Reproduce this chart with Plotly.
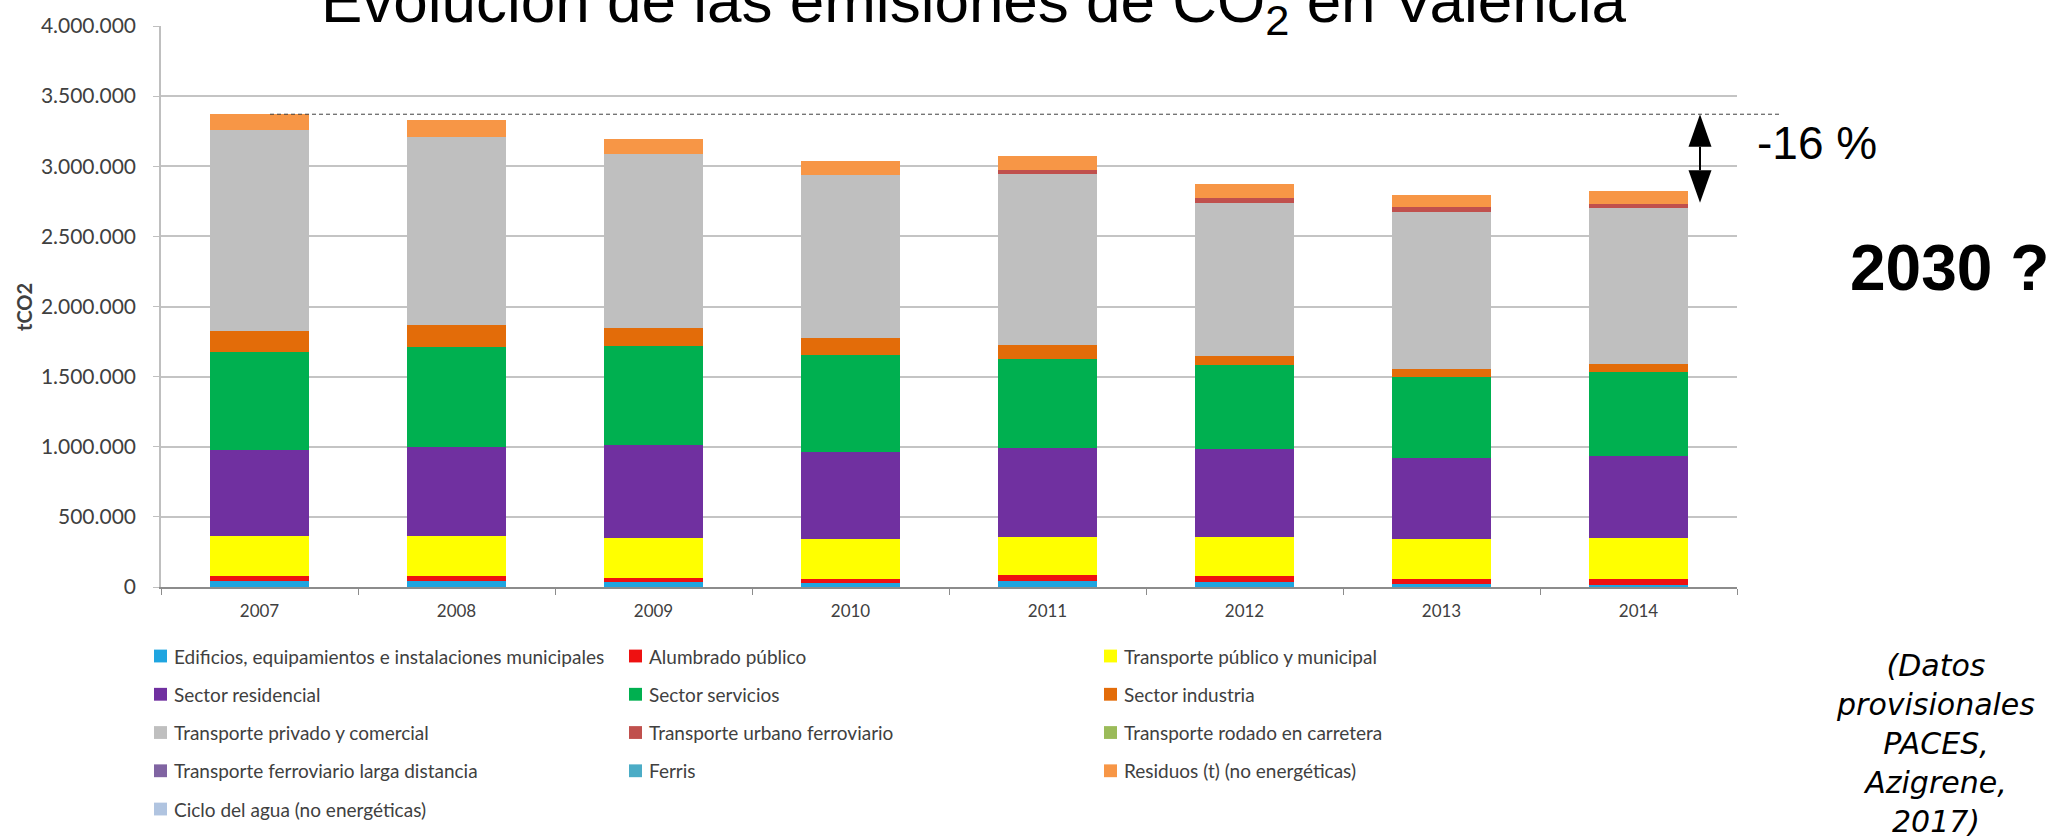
import plotly.graph_objects as go

# ---- data (tCO2) ----
years = ["2007", "2008", "2009", "2010", "2011", "2012", "2013", "2014"]

series_names = [
    "Edificios, equipamientos e instalaciones municipales",
    "Alumbrado público",
    "Transporte público y municipal",
    "Sector residencial",
    "Sector servicios",
    "Sector industria",
    "Transporte privado y comercial",
    "Transporte urbano ferroviario",
    "Transporte rodado en carretera",
    "Transporte ferroviario larga distancia",
    "Ferris",
    "Residuos (t) (no energéticas)",
    "Ciclo del agua (no energéticas)",
]

series_colors = [
    "#1FA5E0", "#EE1111", "#FFFF00", "#7030A0", "#00B050", "#E36C09",
    "#BFBFBF", "#C0504D", "#9BBB59", "#8064A2", "#4BACC6", "#F79646",
    "#B0C4E0",
]

edificios = [41000, 46000, 33000, 26000, 44000, 37000, 21000, 16000]
alumbrado = [35000, 30000, 30000, 28000, 40000, 40000, 35000, 40000]
transporte_publico = [290000, 290000, 287000, 288000, 274000, 276000, 286000, 291000]
residencial = [614000, 629000, 662000, 623000, 635000, 630000, 580000, 590000]
servicios = [693000, 715000, 707000, 687000, 634000, 598000, 578000, 593000]
industria = [154000, 159000, 127000, 120000, 101000, 64000, 54000, 58000]
transporte_privado = [1431000, 1340000, 1239000, 1168000, 1218000, 1096000, 1119000, 1113000]
urbano_ferroviario = [0, 0, 0, 0, 29000, 31000, 33000, 28000]
rodado_carretera = [0, 0, 0, 0, 0, 0, 0, 0]
ferroviario_larga = [0, 0, 0, 0, 0, 0, 0, 0]
ferris = [0, 0, 0, 0, 0, 0, 0, 0]
residuos = [113000, 119000, 110000, 101000, 99000, 98000, 89000, 96000]
ciclo_agua = [0, 0, 0, 0, 0, 0, 0, 0]

y_ticks = [0, 500000, 1000000, 1500000, 2000000, 2500000, 3000000, 3500000, 4000000]

series_values = [
    edificios, alumbrado, transporte_publico, residencial, servicios,
    industria, transporte_privado, urbano_ferroviario, rodado_carretera,
    ferroviario_larga, ferris, residuos, ciclo_agua,
]

totals = [sum(v[i] for v in series_values) for i in range(len(years))]
change_pct = round((totals[-1] - totals[0]) / totals[0] * 100)

# ---- page geometry (pixels) ----
W, H = 2050, 837
L, R, T, B = 161, 313, 18, 250
PW, PH = W - L - R, H - T - B


def px_x(px):
    return (px - L) / PW


def px_y(py):
    return (H - B - py) / PH


fig = go.Figure()
for name, color, vals in zip(series_names, series_colors, series_values):
    fig.add_trace(go.Bar(
        x=years, y=vals, name=name,
        marker=dict(color=color, line=dict(width=0)),
        showlegend=False,
    ))

ui_family = "Lato, Carlito, sans-serif"
x_font = dict(family=ui_family, size=17, color="#404040")
y_font = dict(family=ui_family, size=21, color="#404040")

fig.update_layout(
    width=W, height=H,
    margin=dict(l=L, r=R, t=T, b=B, pad=0),
    barmode="stack", bargap=0.5,
    plot_bgcolor="white", paper_bgcolor="white",
    separators=",.",
    font=x_font,
    showlegend=False,
)

fig.update_xaxes(
    type="category", showgrid=False,
    showline=True, linecolor="#8C8C8C", linewidth=1.5,
    ticks="outside", tickson="boundaries", ticklen=6, tickcolor="#8C8C8C",
    ticklabelstandoff=8, tickfont=x_font,
)
fig.update_yaxes(
    range=[0, 4000000], tickvals=y_ticks, tickformat=",.0f",
    showgrid=True, gridcolor="#C4C4C4", gridwidth=1.5, zeroline=False,
    showline=True, linecolor="#BFBFBF", linewidth=1.5,
    ticks="outside", ticklen=6, tickcolor="#BFBFBF",
    ticklabelstandoff=13, tickfont=y_font,
)

shapes = []
annotations = []

# hide the top gridline behind the title band
shapes.append(dict(type="rect", xref="paper", yref="paper",
                   x0=px_x(196), x1=1.02, y0=0.993, y1=1.03,
                   fillcolor="white", line=dict(width=0), layer="above"))

# reference level of the first year
shapes.append(dict(type="line", xref="paper", yref="y",
                   x0=px_x(270), x1=px_x(1782), y0=totals[0], y1=totals[0],
                   line=dict(color="#404040", width=1, dash="4px,3px")))

# double-headed arrow showing the reduction
ax = px_x(1700)
hw = 11.5 / PW
head = 33 / PH * 4000000
arrow_top = totals[0]
arrow_bottom = 2740000
shapes.append(dict(type="line", xref="paper", yref="y",
                   x0=ax, x1=ax, y0=arrow_top - head, y1=arrow_bottom + head,
                   line=dict(color="black", width=2)))
shapes.append(dict(type="path", xref="paper", yref="y",
                   path=f"M {ax},{arrow_top} L {ax - hw},{arrow_top - head} "
                        f"L {ax + hw},{arrow_top - head} Z",
                   fillcolor="black", line=dict(width=0)))
shapes.append(dict(type="path", xref="paper", yref="y",
                   path=f"M {ax},{arrow_bottom} L {ax - hw},{arrow_bottom + head} "
                        f"L {ax + hw},{arrow_bottom + head} Z",
                   fillcolor="black", line=dict(width=0)))

# legend: three columns of swatches and labels
col_swatch = [154, 629, 1104]
col_text = [172, 647, 1122]
row_y0, row_step = 657, 38.8
sw = 13
for i, (name, color) in enumerate(zip(series_names, series_colors)):
    row, col = divmod(i, 3)
    cy = row_y0 + row * row_step
    shapes.append(dict(type="rect", xref="paper", yref="paper",
                       x0=px_x(col_swatch[col]), x1=px_x(col_swatch[col] + sw),
                       y0=px_y(cy + sw / 2), y1=px_y(cy - sw / 2),
                       fillcolor=color, line=dict(width=0)))
    annotations.append(dict(xref="paper", yref="paper",
                            x=px_x(col_text[col]), y=px_y(cy),
                            xanchor="left", yanchor="middle", showarrow=False,
                            text=name,
                            font=dict(family=ui_family, size=19, color="#404040")))

# title
annotations.append(dict(xref="paper", yref="paper", x=px_x(974), y=px_y(-45),
                        xanchor="center", yanchor="top", showarrow=False,
                        text="Evolución de las emisiones de CO<sub>2</sub> en Valencia",
                        font=dict(family="Liberation Sans, Arial, sans-serif",
                                  size=62, color="black")))

# axis title
annotations.append(dict(xref="paper", yref="paper", x=px_x(24), y=px_y(303),
                        xanchor="center", yanchor="middle", showarrow=False,
                        textangle=-90, text="<b>tCO2</b>",
                        font=dict(family=ui_family, size=20, color="#404040")))

# reduction label
annotations.append(dict(xref="paper", yref="paper", x=px_x(1755), y=px_y(137),
                        xanchor="left", yanchor="middle", showarrow=False,
                        text=f"{change_pct} %",
                        font=dict(family="Liberation Sans, Arial, sans-serif",
                                  size=46, color="black")))

annotations.append(dict(xref="paper", yref="paper", x=px_x(1848), y=px_y(263),
                        xanchor="left", yanchor="middle", showarrow=False,
                        text="<b>2030 ?</b>",
                        font=dict(family="Liberation Sans, Arial, sans-serif",
                                  size=64, color="black")))

# data source note
annotations.append(dict(xref="paper", yref="paper", x=px_x(1935), y=px_y(746),
                        xanchor="center", yanchor="middle", showarrow=False,
                        align="center",
                        text="<i>(Datos<br>provisionales<br>PACES,<br>Azigrene,<br>2017)</i>",
                        font=dict(family="DejaVu Sans, sans-serif",
                                  size=30, color="black")))

fig.update_layout(shapes=shapes, annotations=annotations)

fig.write_html("out.html")
